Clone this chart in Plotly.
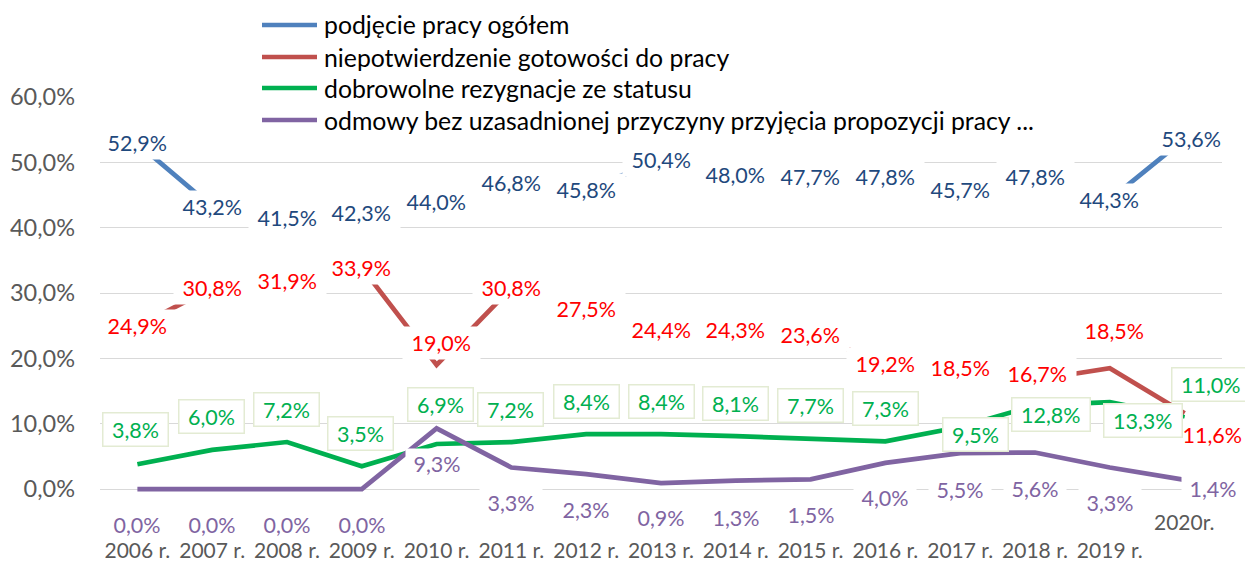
import plotly.graph_objects as go

categories = ["2006 r.", "2007 r.", "2008 r.", "2009 r.", "2010 r.", "2011 r.", "2012 r.",
              "2013 r.", "2014 r.", "2015 r.", "2016 r.", "2017 r.", "2018 r.", "2019 r.", "2020r."]

podjecie = [52.9, 43.2, 41.5, 42.3, 44.0, 46.8, 45.8, 50.4, 48.0, 47.7, 47.8, 45.7, 47.8, 44.3, 53.6]
niepotw = [24.9, 30.8, 31.9, 33.9, 19.0, 30.8, 27.5, 24.4, 24.3, 23.6, 19.2, 18.5, 16.7, 18.5, 11.6]
dobrow = [3.8, 6.0, 7.2, 3.5, 6.9, 7.2, 8.4, 8.4, 8.1, 7.7, 7.3, 9.5, 12.8, 13.3, 11.0]
odmowy = [0.0, 0.0, 0.0, 0.0, 9.3, 3.3, 2.3, 0.9, 1.3, 1.5, 4.0, 5.5, 5.6, 3.3, 1.4]

series_names = ["podjęcie pracy ogółem",
                "niepotwierdzenie gotowości do pracy",
                "dobrowolne rezygnacje ze statusu",
                "odmowy bez uzasadnionej przyczyny przyjęcia propozycji pracy ..."]

# label offsets in pixels (dx right, dy down) relative to the data point
blue_off = [(0, 0)] * 14 + [(7, 0)]
red_off = [(0, 0)] * 4 + [(5, -22)] + [(0, 0)] * 7 + [(2, -6), (5, -37), (28, 22)]
green_off = [(-2, -35), (-1, -33), (-1, -33), (-1, -33), (4, -39), (-1, -33), (0, -33), (0, -33),
             (0, -33), (0, -33), (0, -33), (15, 7), (16, 9), (33, 18), (26, -33)]
purple_off = [(0, 36)] * 4 + [(0, 36), (0, 35), (0, 36), (0, 35), (0, 37), (0, 36), (0, 35),
                              (0, 37), (0, 37), (0, 35), (28, 9)]

FONT = "Lato"
line_colors = ["#4F81BD", "#C0504D", "#00B050", "#8064A2"]
label_colors = ["#1F497D", "#FF0000", "#00B050", "#8064A2"]
border_colors = [None, None, "#E3EBD3", None]
label_pads = [3, 3, 3, 2]

# figure geometry (the page adds an 8px body margin around the figure)
W, H = 1245, 553
ML, MR, MT, MB = 92, 31, 89, 68
PW, PH = W - ML - MR, H - MT - MB
Y_RANGE = [-0.6, 60]   # a little room below 0 so the flat 0% line is not clipped


def px(xp):
    return (xp - ML) / PW


def py(yp):
    return (H - MB - yp) / PH


fig = go.Figure()
all_vals = [podjecie, niepotw, dobrow, odmowy]
for name, vals, col in zip(series_names, all_vals, line_colors):
    fig.add_trace(go.Scatter(x=categories, y=vals, mode="lines", name=name,
                             line=dict(color=col, width=4.7), showlegend=False))

annotations = []
for vals, offs, tcol, bcol, pad in zip(all_vals, [blue_off, red_off, green_off, purple_off],
                                      label_colors, border_colors, label_pads):
    for c, v, (dx, dy) in zip(categories, vals, offs):
        txt = "\u00a0" + f"{v:.1f}%".replace(".", ",") + "\u00a0"
        a = dict(x=c, y=v, xref="x", yref="y", text=txt, showarrow=False,
                 xshift=dx, yshift=-dy, bgcolor="white", borderpad=pad,
                 font=dict(family=FONT, size=21.5, color=tcol))
        if bcol:
            a.update(bordercolor=bcol, borderwidth=1.5)
        annotations.append(a)

# legend (drawn by hand so the sample lines match the original length)
shapes = []
legend_rows = [17, 49, 80, 112]
for name, col, row in zip(series_names, line_colors, legend_rows):
    shapes.append(dict(type="line", xref="paper", yref="paper",
                       x0=px(254), x1=px(309), y0=py(row), y1=py(row),
                       line=dict(color=col, width=4.5)))
    annotations.append(dict(x=px(314), y=py(row), xref="paper", yref="paper",
                            text=name, showarrow=False, xanchor="left", yanchor="middle",
                            font=dict(family=FONT, size=24.8, color="#000000")))

# the last category label sits one line higher than the others
ticktext = categories[:-1] + [""]
annotations.append(dict(x=categories[-1], y=0, xref="x", yref="paper", text=categories[-1],
                        showarrow=False, xanchor="center", yanchor="middle", yshift=-28,
                        font=dict(family=FONT, size=21, color="#595959")))

fig.update_layout(
    width=W, height=H,
    margin=dict(l=ML, r=MR, t=MT, b=MB, autoexpand=False),
    paper_bgcolor="white", plot_bgcolor="white",
    separators=", ",
    font=dict(family=FONT, color="#595959"),
    xaxis=dict(type="category", range=[-0.5, 14.5], tickmode="array",
               tickvals=categories, ticktext=ticktext, showgrid=False,
               showline=False, zeroline=False, ticks="", ticklabelstandoff=43,
               tickfont=dict(family=FONT, size=21, color="#595959")),
    yaxis=dict(range=Y_RANGE, tick0=0, dtick=10, tickformat=".1f", ticksuffix="%",
               showgrid=True, gridcolor="#D9D9D9", gridwidth=1.3, zeroline=False,
               showline=False, ticks="", ticklabelstandoff=24,
               tickfont=dict(family=FONT, size=23.5, color="#595959")),
    showlegend=False,
    shapes=shapes,
    annotations=annotations,
)

fig.write_html("out.html")
